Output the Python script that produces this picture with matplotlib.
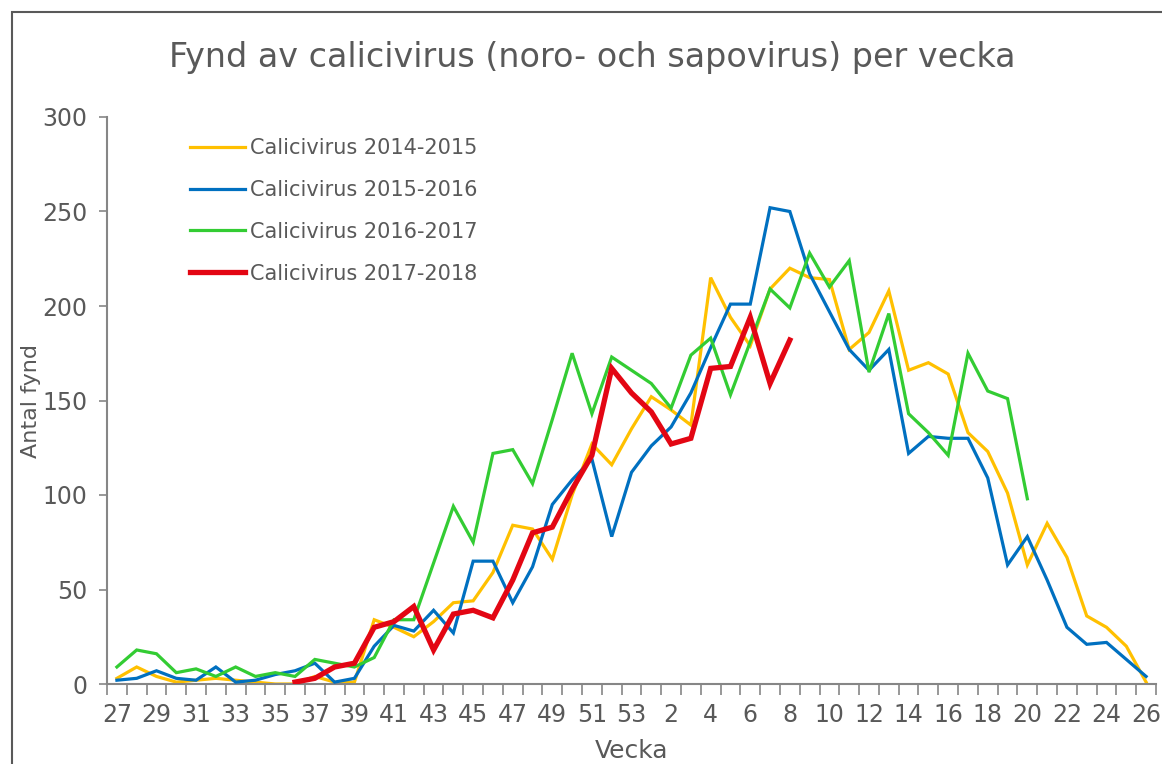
import numpy as np
import matplotlib
matplotlib.use("Agg")
import matplotlib.pyplot as plt
from matplotlib import font_manager as fm
from matplotlib.patches import Rectangle
from matplotlib.lines import Line2D

# veckor: 27..53 och sedan 1..26
veckor = list(range(27, 54)) + list(range(1, 27))

s1415 = [3, 9, 4, 1, 2, 3, 2, 1, 0, 0,
         4, 1, 1, 34, 30, 25, 33, 43, 44, 59,
         84, 82, 66, 100, 127, 116, 135, 152, 145, 137,
         215, 194, 179, 209, 220, 215, 214, 177, 186, 208,
         166, 170, 164, 133, 123, 101, 63, 85, 67, 36,
         30, 20, 1]
s1516 = [2, 3, 7, 3, 2, 9, 1, 2, 5, 7,
         11, 1, 3, 20, 31, 28, 39, 27, 65, 65,
         43, 62, 95, 108, 119, 78, 112, 126, 136, 154,
         178, 201, 201, 252, 250, 217, 197, 177, 166, 177,
         122, 131, 130, 130, 109, 63, 78, 55, 30, 21,
         22, 13, 4]
s1617 = [9, 18, 16, 6, 8, 4, 9, 4, 6, 4,
         13, 11, 9, 14, 34, 34, 64, 94, 75, 122,
         124, 106, 140, 175, 143, 173, 166, 159, 146, 174,
         183, 153, 181, 209, 199, 228, 210, 224, 165, 196,
         143, 133, 121, 175, 155, 151, 98] + [np.nan] * 6
s1718 = [np.nan] * 9 + [1,
         3, 9, 11, 30, 33, 41, 18, 37, 39, 35,
         55, 80, 83, 103, 121, 167, 154, 144, 127, 130,
         167, 168, 194, 159, 182] + [np.nan] * 18

namn = ["Calicivirus 2014-2015", "Calicivirus 2015-2016",
        "Calicivirus 2016-2017", "Calicivirus 2017-2018"]
farger = ["#FFC000", "#0070C0", "#33CC33", "#E30613"]
bredd = [2.3, 2.3, 2.3, 3.8]

# smal font om den finns
finns = {f.name for f in fm.fontManager.ttflist}
font = "DejaVu Sans"
for f in ["Liberation Sans Narrow", "DejaVu Sans Condensed"]:
    if f in finns:
        font = f
        break
plt.rcParams["font.family"] = [font, "DejaVu Sans"]

grå = "#595959"
fig = plt.figure(figsize=(11.62, 7.64), dpi=100)
ax = fig.add_axes([107 / 1162, 1 - 684 / 764, (1156 - 107) / 1162, (684 - 117) / 764])

x = np.arange(len(veckor))
for serie, f, lw, z in zip([s1415, s1516, s1617, s1718], farger, bredd, [2, 3, 4, 5]):
    ax.plot(x, serie, color=f, lw=lw, zorder=z, solid_joinstyle="miter")

ax.set_xlim(-0.5, len(veckor) - 0.5)
ax.set_ylim(0, 300)
ax.set_yticks(range(0, 301, 50))
ax.set_xticks(np.arange(-0.5, len(veckor)), minor=False)
ax.set_xticklabels([])
ax.set_xticks(x[::2], minor=True)
ax.set_xticklabels([str(v) for v in veckor[::2]], minor=True)
ax.tick_params(axis="x", which="major", length=8, width=1.2, color="#868686", direction="out")
ax.tick_params(axis="x", which="minor", length=0, pad=14, labelsize=17, labelcolor=grå)
ax.tick_params(axis="y", length=6, width=1.2, color="#868686", labelsize=17, labelcolor=grå, pad=8)
for s in ["top", "right"]:
    ax.spines[s].set_visible(False)
for s in ["left", "bottom"]:
    ax.spines[s].set_color("#868686")
    ax.spines[s].set_linewidth(1.5)

ax.set_ylabel("Antal fynd", fontsize=16, color=grå, labelpad=1)
ax.set_xlabel("Vecka", fontsize=18, color=grå, labelpad=8)
fig.text(592 / 1162, 1 - 58 / 764, "Fynd av calicivirus (noro- och sapovirus) per vecka",
         ha="center", va="center", fontsize=24, color=grå)

handtag = [Line2D([], [], color=f, lw=lw) for f, lw in zip(farger, bredd)]
ax.legend(handtag, namn, loc="upper left", bbox_to_anchor=(0.079, 0.963), frameon=False,
          borderaxespad=0, borderpad=0, fontsize=15, labelcolor=grå,
          handlelength=2.65, handletextpad=0.25, labelspacing=1.05)

# ram runt diagramytan
fig.patches.append(Rectangle((12 / 1162, -0.1), 2, 1.1 - 12 / 764, transform=fig.transFigure,
                             fill=False, edgecolor="#595959", lw=1.5))

fig.savefig("out.png", dpi=100)
